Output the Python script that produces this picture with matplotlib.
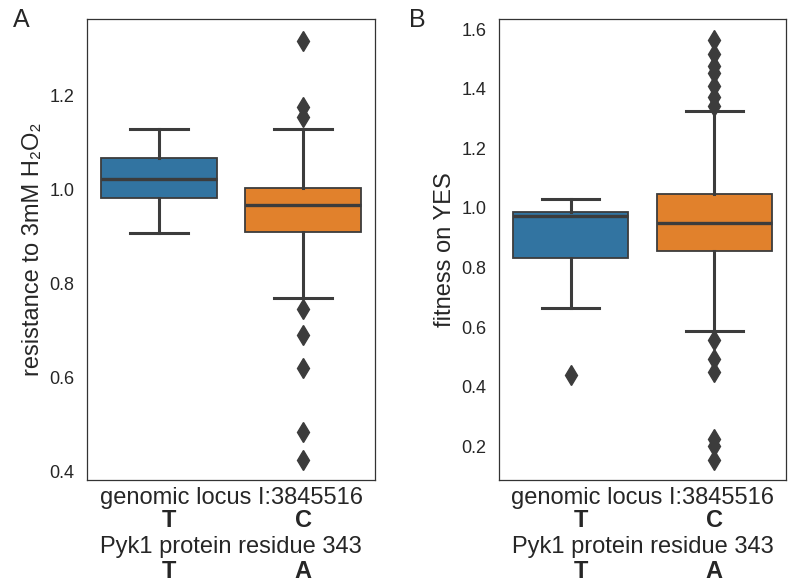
import matplotlib
matplotlib.use("Agg")
import matplotlib.pyplot as plt
import matplotlib.transforms as mtransforms

plt.rcParams['font.family'] = ['Liberation Sans', 'DejaVu Sans']

# box summaries per allele (T, C) for each phenotype
alleles = ["T", "C"]
residues = ["T", "A"]
colors = ["#3274a1", "#e1812c"]
line_col = "#3c3c3c"

h2o2_q1 = [0.981, 0.909]
h2o2_med = [1.021, 0.966]
h2o2_q3 = [1.066, 1.002]
h2o2_lo = [0.906, 0.768]
h2o2_hi = [1.128, 1.128]
h2o2_fliers = [[], [1.315, 1.174, 1.153, 0.745, 0.690, 0.619, 0.483, 0.423]]

yes_q1 = [0.832, 0.856]
yes_med = [0.973, 0.950]
yes_q3 = [0.987, 1.047]
yes_lo = [0.664, 0.587]
yes_hi = [1.030, 1.325]
yes_fliers = [[0.44],
              [1.564, 1.517, 1.477, 1.453, 1.409, 1.372, 1.342,
               0.557, 0.493, 0.450, 0.225, 0.201, 0.154]]


def make_stats(q1, med, q3, lo, hi, fl):
    return [dict(q1=q1[i], med=med[i], q3=q3[i], whislo=lo[i], whishi=hi[i],
                 fliers=fl[i]) for i in range(len(q1))]


fig = plt.figure(figsize=(7.88, 5.83), dpi=100)
axA = fig.add_axes([0.1104, 0.1767, 0.3655, 0.7907])
axB = fig.add_axes([0.6332, 0.1767, 0.3642, 0.7907])


def draw(ax, stats, ylim, ylabel):
    bp = ax.bxp(stats, positions=[0, 1], widths=0.8, capwidths=0.4,
                patch_artist=True, showfliers=True,
                boxprops=dict(edgecolor=line_col, linewidth=1.3),
                whiskerprops=dict(color=line_col, linewidth=2.2),
                capprops=dict(color=line_col, linewidth=2.2),
                medianprops=dict(color=line_col, linewidth=2.4),
                flierprops=dict(marker="d", markerfacecolor=line_col,
                                markeredgecolor=line_col, markersize=10,
                                linestyle="none"))
    for patch, c in zip(bp["boxes"], colors):
        patch.set_facecolor(c)
    ax.set_xlim(-0.5, 1.5)
    ax.set_ylim(*ylim)
    ax.set_xticks([])
    ax.tick_params(axis="y", length=0, labelsize=13, pad=9, colors="#262626")
    ax.set_ylabel(ylabel, fontsize=17, color="#262626")
    for s in ax.spines.values():
        s.set_color("#333333")
        s.set_linewidth(0.9)

    # allele annotation below the axis
    tr = mtransforms.blended_transform_factory(ax.transData, fig.transFigure)
    ax.text(0.5, 0.146, "genomic locus I:3845516", transform=tr,
            ha="center", va="center", fontsize=17, color="#262626")
    ax.text(0.5, 0.062, "Pyk1 protein residue 343", transform=tr,
            ha="center", va="center", fontsize=17, color="#262626")
    for i in range(2):
        ax.text(i + 0.07 - 0.07 * i, 0.108, alleles[i], transform=tr,
                ha="center", va="center", fontsize=17, fontweight="bold",
                color="#262626")
        ax.text(i + 0.07 - 0.07 * i, 0.019, residues[i], transform=tr,
                ha="center", va="center", fontsize=17, fontweight="bold",
                color="#262626")


draw(axA, make_stats(h2o2_q1, h2o2_med, h2o2_q3, h2o2_lo, h2o2_hi, h2o2_fliers),
     (0.381, 1.362), "resistance to 3mM H\u2082O\u2082")
axA.set_yticks([0.4, 0.6, 0.8, 1.0, 1.2])

draw(axB, make_stats(yes_q1, yes_med, yes_q3, yes_lo, yes_hi, yes_fliers),
     (0.087, 1.634), "fitness on YES")
axB.set_yticks([0.2, 0.4, 0.6, 0.8, 1.0, 1.2, 1.4, 1.6])

fig.text(0.027, 0.966, "A", fontsize=18, ha="center", va="center", color="#262626")
fig.text(0.529, 0.966, "B", fontsize=18, ha="center", va="center", color="#262626")

fig.savefig("out.png", dpi=100)
